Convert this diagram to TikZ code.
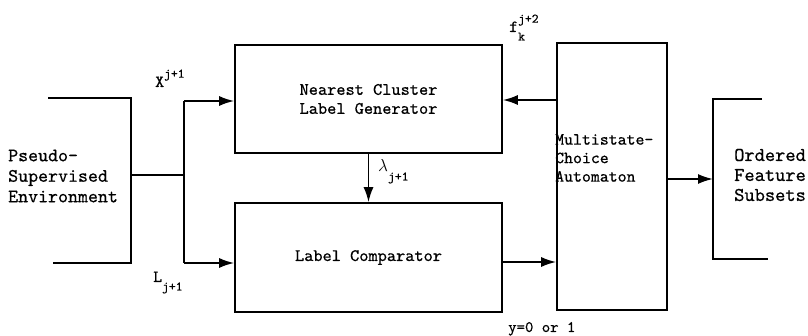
\documentclass[tikz,border=0pt]{standalone}
\usepackage{fontspec}
\setmainfont[FakeBold=0.6]{lmmono10-regular.otf}
\usetikzlibrary{arrows.meta}
\newcommand\supx[1]{\raisebox{0.55em}{\fontsize{13}{13}\selectfont #1}}
\newcommand\subx[1]{\raisebox{-0.5em}{\fontsize{13}{13}\selectfont #1}}
\begin{document}
\begin{tikzpicture}[x=1pt,y=-1pt,
  box/.style={draw, line width=1.6pt, inner sep=0pt},
  wire/.style={line width=1.8pt},
  arr/.style={wire, -{Latex[length=15pt,width=10pt]}},
  txt/.style={font=\fontsize{17.5}{19}\selectfont, align=left, inner sep=0pt},
  lbl/.style={font=\fontsize{17}{17}\selectfont, inner sep=0pt}]
\useasboundingbox (0,0) rectangle (808,336);

% boxes
\node[box, txt, align=center, minimum width=267pt, minimum height=108pt] (ncl) at (368.5,99) {Nearest Cluster\\Label Generator};
\node[box, txt, minimum width=267pt, minimum height=109pt] (lc) at (368.5,257.5) {\raisebox{-4pt}{Label Comparator}};
\node[box, minimum width=110pt, minimum height=267pt] (aut) at (612,176.5) {};
\node[txt, anchor=west, font=\fontsize{17}{18.5}\selectfont] (autt) at (555,158) {Multistate-\\Choice\\Automaton};

% side texts
\node[txt, anchor=west, font=\fontsize{19}{20.5}\selectfont] (pse) at (8,176) {Pseudo-\\Supervised\\Environment};
\node[txt, anchor=west, font=\fontsize{19.5}{20}\selectfont] (ofs) at (734,175) {Ordered\\Feature\\Subsets};

% left brackets
\coordinate (lt1) at (48,98);
\coordinate (lt2) at (131,98);
\coordinate (lb2) at (131,263);
\coordinate (lb1) at (53,263);
\draw[wire] (lt1) -- (lt2) -- (lb2) -- (lb1);
\coordinate (lm) at (131,175);
\coordinate (jm) at (184,175);
\draw[wire] (lm) -- (jm);
\coordinate (jt) at (184,101);
\coordinate (jb) at (184,263);
\draw[wire] (jb) -- (jt);
\draw[arr] (jt) -- (jt -| ncl.west);
\draw[arr] (jb) -- (jb -| lc.west);

% lambda
\draw[arr] (ncl.south) -- (lc.north);

% feedback and comparator output
\coordinate (fb) at (612,100);
\draw[arr] (fb -| aut.west) -- (fb -| ncl.east);
\coordinate (co) at (612,262);
\draw[arr] (co -| lc.east) -- (co -| aut.west);

% right bracket
\coordinate (rt1) at (762,99);
\coordinate (rt2) at (713,99);
\coordinate (rb2) at (713,259);
\coordinate (rb1) at (768,259);
\draw[wire] (rt1) -- (rt2) -- (rb2) -- (rb1);
\coordinate (ao) at (713,179);
\draw[arr] (ao -| aut.east) -- (ao);

% labels
\node[lbl, anchor=base west] (xl) at (155,87) {X\supx{j+1}};
\node[lbl, anchor=base west] (ll) at (153,282) {L\subx{j+1}};
\node[lbl, anchor=base west] (lam) at (378,172) {$\lambda$\subx{j+1}};
\node[lbl, anchor=base west] (fl) at (509,32) {f\rlap{\supx{j+2}}\subx{k}};
\node[lbl, anchor=base west, font=\fontsize{16}{16}\selectfont] (yl) at (508,332) {y=0 or 1};
\end{tikzpicture}
\end{document}
